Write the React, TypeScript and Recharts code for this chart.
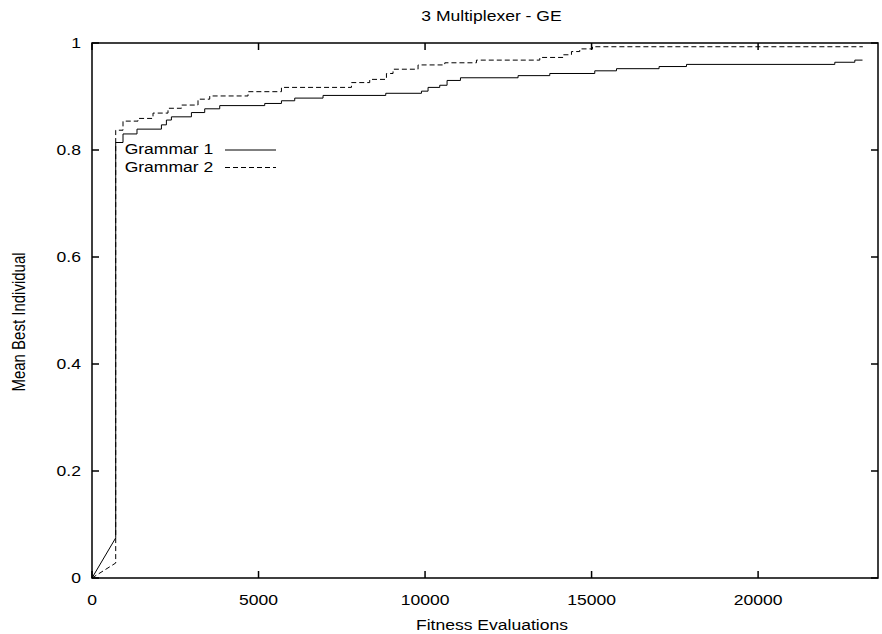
import { LineChart, Line, XAxis, YAxis, ReferenceArea } from 'recharts';

// mean best individual per fitness evaluations (step change points)
const g1Evals = [0, 712, 712, 931, 1351, 2084, 2234, 2384, 2985, 3384, 3835, 5186, 5688, 6087, 6937, 8820, 9892, 10090, 10441, 10661, 11063, 12793, 13745, 15096, 15748, 17027, 17850, 22303, 22904, 23135];
const g1Means = [0, 0.075, 0.814, 0.83, 0.839, 0.847, 0.856, 0.862, 0.87, 0.877, 0.883, 0.887, 0.892, 0.897, 0.902, 0.906, 0.91, 0.917, 0.921, 0.93, 0.935, 0.939, 0.943, 0.948, 0.952, 0.956, 0.96, 0.964, 0.968, 0.968];

const g2Evals = [0, 712, 712, 931, 1381, 1832, 2282, 2685, 3183, 3535, 4685, 5688, 7790, 8339, 8841, 9039, 9790, 10592, 11543, 13445, 14144, 14396, 14645, 15027, 23144];
const g2Means = [0, 0.028, 0.837, 0.854, 0.859, 0.869, 0.878, 0.884, 0.895, 0.901, 0.909, 0.917, 0.926, 0.932, 0.943, 0.951, 0.959, 0.963, 0.968, 0.973, 0.978, 0.984, 0.989, 0.993, 0.993];

const xTicks = [0, 5000, 10000, 15000, 20000];
const yTicks = [0, 0.2, 0.4, 0.6, 0.8, 1];
const X_MAX = 23600;

const PLOT_LEFT = 92;
const PLOT_RIGHT = 878;
const PLOT_TOP = 43;
const PLOT_BOTTOM = 578;
const SX = 1.17; // the original text is stretched sideways
const FONT = '"Liberation Sans", Arial, sans-serif';

// first segment is a straight ramp, after that values hold until the next change
const toSteps = (evals: number[], means: number[]) => {
  const pts = [{ x: evals[0], y: means[0] }, { x: evals[1], y: means[1] }];
  for (let i = 2; i < evals.length; i++) {
    pts.push({ x: evals[i], y: means[i - 1] });
    pts.push({ x: evals[i], y: means[i] });
  }
  return pts;
};

const g1Points = toSteps(g1Evals, g1Means);
const g2Points = toSteps(g2Evals, g2Means);

const SText = ({ x, y, anchor = 'middle', children }: any) => (
  <text
    transform={`translate(${x},${y}) scale(${SX},1)`}
    textAnchor={anchor}
    fontFamily={FONT}
    fontSize={15}
    fill="#000"
  >
    {children}
  </text>
);

const XTick = (props: any) => {
  const { x, payload } = props;
  return (
    <g>
      <line x1={x} x2={x} y1={PLOT_BOTTOM} y2={PLOT_BOTTOM - 7} stroke="#000" strokeWidth={1.5} />
      <line x1={x} x2={x} y1={PLOT_TOP} y2={PLOT_TOP + 7} stroke="#000" strokeWidth={1.5} />
      <SText x={x} y={605}>{payload.value}</SText>
    </g>
  );
};

const YTick = (props: any) => {
  const { y, payload } = props;
  return (
    <g>
      <line x1={PLOT_LEFT} x2={PLOT_LEFT + 7} y1={y} y2={y} stroke="#000" strokeWidth={1.5} />
      <line x1={PLOT_RIGHT} x2={PLOT_RIGHT - 7} y1={y} y2={y} stroke="#000" strokeWidth={1.5} />
      <SText x={81} y={y + 5.4} anchor="end">{payload.value}</SText>
    </g>
  );
};

const App = () => {
  return (
    <div style={{ position: 'absolute', left: 0, top: 0, width: 882, height: 634, background: '#fff' }}>
      <LineChart width={882} height={634} margin={{ top: 43, right: 4, bottom: 0, left: 0 }}>
        <XAxis
          type="number"
          dataKey="x"
          domain={[0, X_MAX]}
          ticks={xTicks}
          height={56}
          axisLine={false}
          tickLine={false}
          tick={XTick}
          allowDataOverflow
        />
        <YAxis
          type="number"
          domain={[0, 1]}
          ticks={yTicks}
          width={92}
          axisLine={false}
          tickLine={false}
          tick={YTick}
        />
        <Line
          data={g1Points}
          dataKey="y"
          type="linear"
          stroke="#000"
          strokeWidth={1}
          dot={false}
          isAnimationActive={false}
        />
        <Line
          data={g2Points}
          dataKey="y"
          type="linear"
          stroke="#000"
          strokeWidth={1}
          strokeDasharray="5 3"
          dot={false}
          isAnimationActive={false}
        />
        <ReferenceArea x1={0} x2={X_MAX} y1={0} y2={1} fill="none" stroke="#000" strokeWidth={1.5} ifOverflow="visible" />
      </LineChart>
      <svg width={882} height={634} style={{ position: 'absolute', left: 0, top: 0, pointerEvents: 'none' }}>
        <SText x={491.5} y={20.7}>3 Multiplexer - GE</SText>
        <SText x={492} y={629.5}>Fitness Evaluations</SText>
        <text
          transform={`translate(25,322) scale(${SX},1) rotate(-90)`}
          textAnchor="middle"
          fontFamily={FONT}
          fontSize={15}
          fill="#000"
        >
          Mean Best Individual
        </text>
        <SText x={213.3} y={154.3} anchor="end">Grammar 1</SText>
        <line x1={225} x2={276} y1={150} y2={150} stroke="#000" strokeWidth={1} />
        <SText x={213.3} y={171.7} anchor="end">Grammar 2</SText>
        <line x1={225} x2={276} y1={167.5} y2={167.5} stroke="#000" strokeWidth={1} strokeDasharray="5 3" />
      </svg>
    </div>
  );
};

export default App;
